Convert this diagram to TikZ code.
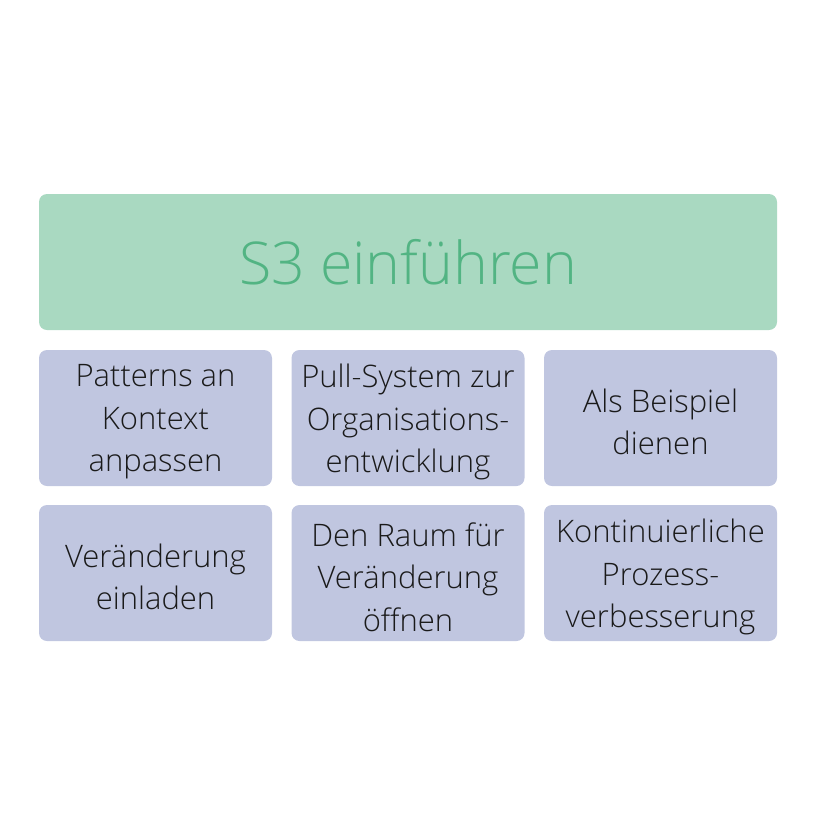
\documentclass[tikz,border=0pt]{standalone}
\usepackage{fontspec}
\setmainfont{Open Sans Light}
\usepackage{xcolor}
\usetikzlibrary{positioning}

\definecolor{kopfgruen}{HTML}{A9D9C1}
\definecolor{kopftext}{HTML}{52B483}
\definecolor{feldblau}{HTML}{C0C6E0}
\definecolor{feldtext}{HTML}{1A1A1A}

\begin{document}
\begin{tikzpicture}[
    x=1pt, y=-1pt,
    kopf/.style={fill=kopfgruen, rounded corners=8pt, minimum width=738pt,
        minimum height=136pt, inner sep=0pt, text=kopftext,
        font=\fontsize{59}{64}\selectfont},
    feld/.style={fill=feldblau, rounded corners=8pt, minimum width=233pt,
        minimum height=136pt, inner sep=0pt},
    feldschrift/.style={text=feldtext, align=center, inner sep=0pt,
        yshift=-4pt, font=\fontsize{31}{42.5}\selectfont}
]
\useasboundingbox (0,0) rectangle (816,836);

%------------------------------------------------
% Kopf
%------------------------------------------------
\node[kopf] (kopf) at (408,262) {\raisebox{-3pt}{S3 einführen}};

%------------------------------------------------
% Felder
%------------------------------------------------
\foreach \x/\y/\nome/\txt in {
155.5/418/patterns/{Patterns an\\Kontext\\anpassen},
408/418/pull/{Pull-System zur\\Organisations-\\entwicklung},
660.5/418/beispiel/{Als Beispiel\\dienen},
155.5/573/einladen/{Veränderung\\einladen},
408/573/raum/{Den Raum für\\Veränderung\\öffnen},
660.5/573/prozess/{Kontinuierliche\\Prozess-\\verbesserung}}
{
    \node[feld, label={[feldschrift]center:\txt}] (\nome) at (\x,\y) {};
}

\end{tikzpicture}
\end{document}
